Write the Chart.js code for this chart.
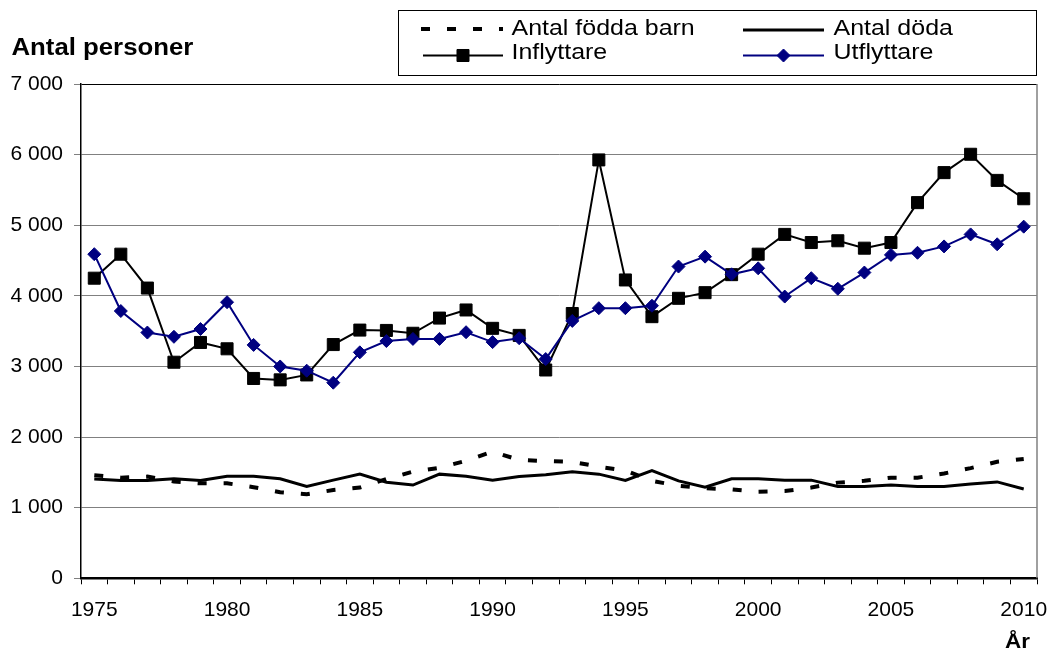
<!DOCTYPE html>
<html><head><meta charset="utf-8">
<script src="https://cdn.jsdelivr.net/npm/chart.js@4/dist/chart.umd.min.js"></script>
<style>html,body{margin:0;padding:0;background:#fff}#wrap{width:1049px;height:650px;position:relative}</style>
</head><body><div id="wrap"><canvas id="c" width="1049" height="650"></canvas></div>
<script>
const years = ['1975','1976','1977','1978','1979','1980','1981','1982','1983','1984','1985','1986',
  '1987','1988','1989','1990','1991','1992','1993','1994','1995','1996','1997','1998',
  '1999','2000','2001','2002','2003','2004','2005','2006','2007','2008','2009','2010'];
const xLabelYears = ['1975','1980','1985','1990','1995','2000','2005','2010'];
const yTickLabels = ['0','1 000','2 000','3 000','4 000','5 000','6 000','7 000'];

const fodda = [1460,1425,1440,1370,1345,1345,1290,1220,1190,1250,1285,1405,
  1510,1565,1665,1795,1675,1660,1650,1580,1525,1380,1310,1275,
  1260,1225,1235,1285,1355,1380,1425,1425,1485,1560,1650,1690];
const doda = [1405,1385,1385,1410,1385,1445,1445,1410,1300,1390,1475,1360,
  1320,1475,1445,1390,1440,1465,1510,1475,1385,1525,1380,1290,
  1410,1410,1390,1390,1300,1300,1320,1300,1300,1335,1365,1265];
const inflyttare = [4250,4590,4110,3060,3340,3250,2830,2810,2880,3310,3515,3510,
  3470,3685,3800,3540,3440,2950,3750,5925,4225,3705,3965,4045,
  4300,4590,4870,4755,4780,4675,4755,5320,5745,6005,5635,5375];
const utflyttare = [4590,3785,3480,3420,3530,3910,3305,3000,2940,2770,3200,3360,
  3390,3390,3485,3345,3400,3105,3645,3825,3825,3860,4415,4555,
  4305,4390,3990,4250,4100,4330,4580,4610,4700,4870,4730,4980];

const seriesNames = ['Antal födda barn','Antal döda','Inflyttare','Utflyttare'];
const yTitle = 'Antal personer';
const xTitle = 'År';
const FONT = "'Liberation Sans', Arial, Helvetica, sans-serif";

const overlay = {
  id: 'overlay',
  afterDraw(chart) {
    const ctx = chart.ctx, a = chart.chartArea;
    ctx.save();
    ctx.strokeStyle = '#808080'; ctx.lineWidth = 1.5;
    ctx.beginPath(); ctx.moveTo(a.right, a.top); ctx.lineTo(a.right, a.bottom); ctx.stroke();

    function stext(t, x, y, font, sx) {
      ctx.save(); ctx.translate(x, y); ctx.scale(sx, 1);
      ctx.font = font; ctx.fillStyle = '#000';
      ctx.textBaseline = 'alphabetic'; ctx.textAlign = 'left';
      ctx.fillText(t, 0, 0); ctx.restore();
    }
    stext(yTitle, 11.5, 55, 'bold 23px ' + FONT, 1.12);
    stext(xTitle, 1005, 648, 'bold 21px ' + FONT, 1.07);

    ctx.fillStyle = '#fff'; ctx.fillRect(398.5, 10.5, 638, 65);
    ctx.strokeStyle = '#000'; ctx.lineWidth = 1; ctx.setLineDash([]);
    ctx.strokeRect(398.5, 10.5, 638, 65);

    const items = [
      {i: 0, sx: 421, ex: 503, ly: 29, tx: 511.5, ty: 35},
      {i: 1, sx: 743, ex: 824, ly: 30, tx: 833.5, ty: 35},
      {i: 2, sx: 423, ex: 503, ly: 55.5, tx: 511.5, ty: 59},
      {i: 3, sx: 743, ex: 824, ly: 55.5, tx: 833.5, ty: 59}
    ];
    items.forEach(it => {
      const ds = chart.data.datasets[it.i];
      ctx.save();
      ctx.strokeStyle = ds.borderColor; ctx.lineWidth = ds.borderWidth;
      ctx.setLineDash(ds.borderDash || []);
      ctx.beginPath(); ctx.moveTo(it.sx, it.ly); ctx.lineTo(it.ex, it.ly); ctx.stroke();
      ctx.setLineDash([]);
      if (ds.pointRadius > 0) {
        ctx.fillStyle = ds.pointBackgroundColor; ctx.strokeStyle = ds.pointBorderColor;
        ctx.lineWidth = ds.pointBorderWidth;
        Chart.helpers.drawPoint(ctx, {pointStyle: ds.pointStyle, radius: ds.pointRadius, borderWidth: ds.pointBorderWidth, rotation: 0}, (it.sx + it.ex) / 2, it.ly);
      }
      ctx.restore();
      stext(ds.label, it.tx, it.ty, '22px ' + FONT, 1.135);
    });
    ctx.restore();
  }
};

new Chart(document.getElementById('c'), {
  type: 'line',
  data: {
    labels: years,
    datasets: [
      {label: seriesNames[0], data: fodda, borderColor: '#000', borderWidth: 4, borderDash: [9, 17],
       pointRadius: 0, fill: false, tension: 0, order: 3},
      {label: seriesNames[1], data: doda, borderColor: '#000', borderWidth: 3, pointRadius: 0,
       fill: false, tension: 0, order: 2},
      {label: seriesNames[2], data: inflyttare, borderColor: '#000', borderWidth: 2,
       pointStyle: 'rect', pointRadius: 8.5, pointBackgroundColor: '#000', pointBorderColor: '#000',
       pointBorderWidth: 1, fill: false, tension: 0, order: 1},
      {label: seriesNames[3], data: utflyttare, borderColor: '#000080', borderWidth: 2,
       pointStyle: 'rectRot', pointRadius: 6.5, pointBackgroundColor: '#000080', pointBorderColor: '#000080',
       pointBorderWidth: 1, fill: false, tension: 0, order: 0}
    ]
  },
  options: {
    responsive: false,
    animation: false,
    devicePixelRatio: 1,
    layout: {padding: {left: 0, top: 84, right: 12, bottom: 26.7}},
    plugins: {legend: {display: false}, tooltip: {enabled: false}, title: {display: false}},
    elements: {point: {hoverRadius: 0}},
    scales: {
      x: {
        type: 'category',
        offset: true,
        afterFit(s) { s.height = 45; s.paddingLeft = 0; s.paddingRight = 0; },
        ticks: {
          autoSkip: false, maxRotation: 0, minRotation: 0,
          font: {size: 21, family: FONT}, color: '#000', padding: 13,
          callback: (v, i) => xLabelYears.includes(years[i]) ? years[i] : ''
        },
        grid: {offset: true, drawOnChartArea: false, drawTicks: true, tickLength: 6, color: '#000', lineWidth: 1},
        border: {color: '#000', width: 2.5}
      },
      y: {
        min: 0, max: 7000,
        afterFit(s) { s.width = 81; s.paddingTop = 0; s.paddingBottom = 0; },
        ticks: {
          stepSize: 1000, font: {size: 21, family: FONT}, color: '#000', padding: 11,
          callback: (v, i) => yTickLabels[i]
        },
        grid: {
          color: c => (c.tick && (c.tick.value === 7000 || c.tick.value === 0)) ? '#000' : '#808080',
          lineWidth: 1, tickLength: 7, tickColor: '#808080'
        },
        border: {color: '#000', width: 1.5}
      }
    }
  },
  plugins: [overlay]
});
</script>
</body></html>
